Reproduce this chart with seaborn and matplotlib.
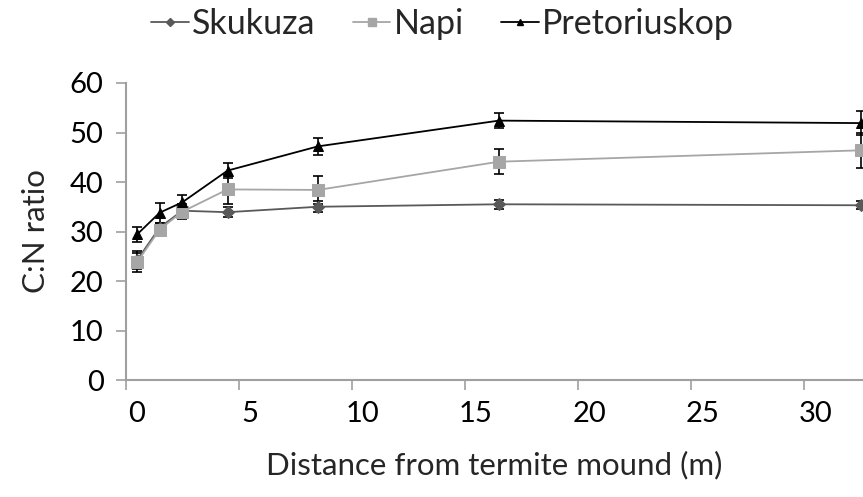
import numpy as np
import pandas as pd
import seaborn as sns
import matplotlib.pyplot as plt
from matplotlib.transforms import ScaledTranslation
from matplotlib.lines import Line2D

# distance from mound (m)
distance = [0.5, 1.5, 2.5, 4.5, 8.5, 16.5, 32.5]

# C:N ratio means and error bars per site
skukuza = [24.2, 30.8, 34.2, 33.9, 35.0, 35.5, 35.3]
skukuza_err = [1.8, 1.0, 1.0, 1.0, 1.1, 0.9, 0.8]
napi = [23.8, 30.4, 34.0, 38.5, 38.4, 44.1, 46.4]
napi_err = [1.9, 1.2, 1.5, 3.0, 2.9, 2.5, 3.5]
pretoriuskop = [29.4, 33.8, 35.9, 42.3, 47.2, 52.4, 51.9]
pretoriuskop_err = [1.5, 2.0, 1.5, 1.5, 1.7, 1.5, 2.5]

sites = ['Skukuza', 'Napi', 'Pretoriuskop']
colors = {'Skukuza': '#595959', 'Napi': '#a6a6a6', 'Pretoriuskop': '#000000'}
markers = {'Skukuza': 'D', 'Napi': 's', 'Pretoriuskop': '^'}
msizes = {'Skukuza': 6, 'Napi': 8, 'Pretoriuskop': 7}

df = pd.DataFrame({
    'distance': distance * 3,
    'ratio': skukuza + napi + pretoriuskop,
    'err': skukuza_err + napi_err + pretoriuskop_err,
    'site': [s for s in sites for _ in distance],
})

sns.set_theme(style='white')
plt.rcParams['font.family'] = ['Lato', 'DejaVu Sans']

fig = plt.figure(figsize=(8.63, 4.97), dpi=100)
ax = fig.add_axes([0.1457, 0.2354, 1 - 0.1457, 0.833 - 0.2354])

for s in sites:
    sub = df[df['site'] == s]
    ax.errorbar(sub['distance'], sub['ratio'], yerr=sub['err'], fmt='none',
                ecolor='black', elinewidth=1.2, capsize=3.6, capthick=1.2, zorder=2)
    sns.lineplot(data=sub, x='distance', y='ratio', color=colors[s], marker=markers[s],
                 markersize=msizes[s], markeredgecolor=colors[s], linewidth=1.3,
                 ax=ax, zorder=3, legend=False)

ax.set_xlim(0, 32.6)
ax.set_ylim(0, 60)
ax.set_xticks(range(0, 35, 5))
ax.set_yticks(range(0, 70, 10))
ax.tick_params(axis='both', which='major', direction='out', length=7, width=1.2,
               color='#a0a0a0', labelsize=21, labelcolor='black', bottom=True, left=True)
ax.tick_params(axis='y', pad=9)
ax.tick_params(axis='x', pad=8)
for lab in ax.get_xticklabels():
    lab.set_transform(lab.get_transform() + ScaledTranslation(0.11, 0, fig.dpi_scale_trans))

for side in ['top', 'right']:
    ax.spines[side].set_visible(False)
for side in ['left', 'bottom']:
    ax.spines[side].set_color('#a0a0a0')
    ax.spines[side].set_linewidth(1.5)

ax.set_xlabel('Distance from termite mound (m)', fontsize=22.5, labelpad=17)
ax.set_ylabel('C:N ratio', fontsize=22.5, labelpad=14)

handles = [Line2D([], [], color=colors[s], marker=markers[s], markersize=msizes[s] * 0.7,
                  linewidth=1.3) for s in sites]
fig.legend(handles, sites, loc='center', bbox_to_anchor=(0.513, 0.952), ncol=3,
           frameon=False, fontsize=24.5, handlelength=1.1, handletextpad=0.1,
           columnspacing=1.1)

fig.savefig('out.png', dpi=100)
